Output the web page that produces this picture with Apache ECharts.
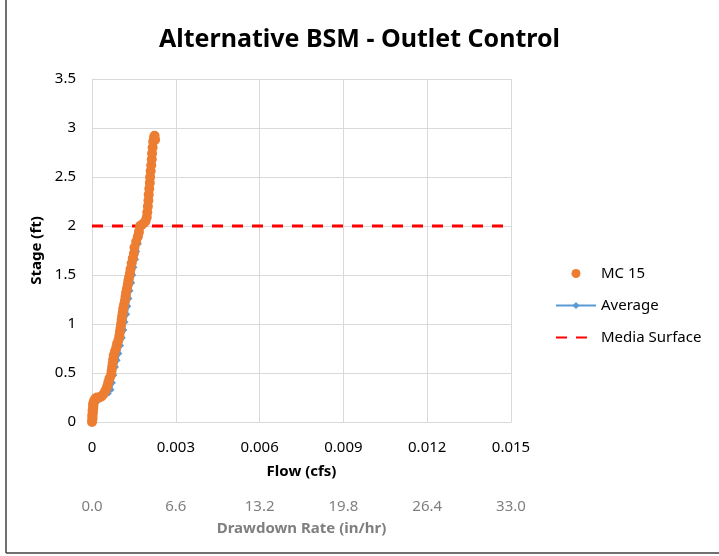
<!DOCTYPE html>
<html>
<head>
<meta charset="utf-8">
<script src="https://cdn.jsdelivr.net/npm/echarts@6/dist/echarts.min.js"></script>
<style>html,body{margin:0;padding:0;background:#fff}#c{width:719px;height:556px}</style>
</head>
<body>
<div id="c"></div>
<script>
const titleText = 'Alternative BSM - Outlet Control';
const seriesNames = ['MC 15', 'Average', 'Media Surface'];
const flowTicks = [0, 0.003, 0.006, 0.009, 0.012, 0.015];
const rateTicks = [0.0, 6.6, 13.2, 19.8, 26.4, 33.0];
const stageTicks = [0, 0.5, 1, 1.5, 2, 2.5, 3, 3.5];

const mc15 = [
  [0,0],[0.00001,0.02],[0.00002,0.04],[0.00001,0.06],[0.00002,0.08],[0.00003,0.10],
  [0.00002,0.12],[0.00004,0.14],[0.00005,0.16],[0.00004,0.18],[0.00006,0.20],[0.00008,0.22],
  [0.00012,0.24],[0.00018,0.25],[0.00026,0.25],[0.00034,0.26],[0.00040,0.28],[0.00048,0.32],
  [0.00054,0.36],[0.00058,0.40],[0.00062,0.44],[0.00068,0.48],[0.00070,0.52],[0.00072,0.56],
  [0.00074,0.60],[0.00076,0.64],[0.00078,0.68],[0.00082,0.72],[0.00087,0.76],[0.00090,0.80],
  [0.00095,0.84],[0.00098,0.88],[0.00100,0.92],[0.00102,0.96],[0.00104,1.00],[0.00106,1.04],
  [0.00108,1.08],[0.00110,1.12],[0.00112,1.16],[0.00115,1.20],[0.00118,1.24],[0.00120,1.28],
  [0.00122,1.32],[0.00125,1.36],[0.00128,1.40],[0.00130,1.44],[0.00133,1.48],[0.00136,1.52],
  [0.00138,1.56],[0.00142,1.62],[0.00146,1.67],[0.00150,1.72],[0.00152,1.78],[0.00158,1.84],
  [0.00164,1.89],[0.00168,1.94],[0.00172,2.00],[0.00178,2.01],[0.00186,2.03],[0.00192,2.05],
  [0.00196,2.09],[0.00198,2.14],[0.00200,2.20],[0.00202,2.26],[0.00203,2.32],[0.00205,2.38],
  [0.00207,2.44],[0.00208,2.50],[0.00210,2.56],[0.00212,2.62],[0.00214,2.68],[0.00215,2.74],
  [0.00217,2.80],[0.00219,2.86],[0.00222,2.90],[0.00224,2.92],[0.00226,2.88]
];

const average = [
  [0,0],[0.00002,0.05],[0.00005,0.10],[0.00010,0.15],[0.00018,0.20],[0.00030,0.23],
  [0.00045,0.26],[0.00060,0.29],[0.00070,0.33],[0.00075,0.40],[0.00080,0.48],[0.00086,0.56],
  [0.00092,0.63],[0.00098,0.70],[0.00104,0.78],[0.00110,0.86],[0.00116,0.94],[0.00120,1.02],
  [0.00126,1.10],[0.00130,1.18],[0.00134,1.26],[0.00138,1.34],[0.00144,1.42],[0.00148,1.50],
  [0.00152,1.58],[0.00158,1.66],[0.00162,1.74],[0.00168,1.82],[0.00172,1.90],[0.00178,1.98],
  [0.00188,2.04],[0.00198,2.10],[0.00204,2.20],[0.00206,2.30],[0.00208,2.40],[0.00210,2.50],
  [0.00212,2.60],[0.00214,2.70],[0.00216,2.80],[0.00219,2.88]
];

const mediaSurface = [[0,2],[0.015,2]];

const FONT = 'Noto Sans';
const chart = echarts.init(document.getElementById('c'), null, {renderer:'canvas'});
chart.setOption({
  backgroundColor:'#fff',
  animation:false,
  title:{text:titleText,left:'center',top:22,
    textStyle:{fontFamily:FONT,fontSize:25,fontWeight:'bold',color:'#000'}},
  grid:{left:92,top:79,right:208,bottom:134},
  legend:{
    orient:'vertical',left:550,top:261,itemGap:17,itemWidth:40,itemHeight:9,
    data:[
      {name:seriesNames[0]},
      {name:seriesNames[1]},
      {name:seriesNames[2],itemStyle:{opacity:0}}
    ],
    textStyle:{fontFamily:FONT,fontSize:15,color:'#000'}
  },
  xAxis:[{
    type:'value',min:flowTicks[0],max:flowTicks[flowTicks.length-1],interval:flowTicks[1]-flowTicks[0],
    position:'bottom',
    name:'Flow (cfs)',nameLocation:'middle',nameGap:42,
    nameTextStyle:{fontFamily:FONT,fontSize:15,fontWeight:'bold',color:'#000'},
    axisLine:{show:true,lineStyle:{color:'#d9d9d9'}},
    axisTick:{show:false},
    axisLabel:{fontFamily:FONT,fontSize:15,color:'#000',margin:18,
      formatter:v=>v===0?'0':String(Number(v.toFixed(3)))},
    splitLine:{show:true,lineStyle:{color:'#d9d9d9'}}
  },{
    type:'value',min:rateTicks[0],max:rateTicks[rateTicks.length-1],interval:rateTicks[1]-rateTicks[0],
    position:'bottom',offset:66,
    name:'Drawdown Rate (in/hr)',nameLocation:'middle',nameGap:33,
    nameTextStyle:{fontFamily:FONT,fontSize:15,fontWeight:'bold',color:'#7f7f7f'},
    axisLine:{show:false},axisTick:{show:false},
    axisLabel:{fontFamily:FONT,fontSize:15,color:'#7f7f7f',margin:11,formatter:v=>v.toFixed(1)},
    splitLine:{show:false}
  }],
  yAxis:{
    type:'value',min:stageTicks[0],max:stageTicks[stageTicks.length-1],interval:stageTicks[1]-stageTicks[0],
    name:'Stage (ft)',nameLocation:'middle',nameGap:46,
    nameTextStyle:{fontFamily:FONT,fontSize:15,fontWeight:'bold',color:'#000'},
    axisLine:{show:true,lineStyle:{color:'#d9d9d9'}},
    axisTick:{show:false},
    axisLabel:{fontFamily:FONT,fontSize:15,color:'#000',margin:16},
    splitLine:{show:true,lineStyle:{color:'#d9d9d9'}}
  },
  series:[
    {name:seriesNames[1],type:'line',data:average,xAxisIndex:0,z:2,
      symbol:'diamond',symbolSize:6,showSymbol:true,
      lineStyle:{color:'#5b9bd5',width:1.5},itemStyle:{color:'#5b9bd5'}},
    {name:seriesNames[2],type:'line',data:mediaSurface,xAxisIndex:0,z:3,
      symbol:'none',lineStyle:{color:'#ff0000',width:3,type:[11,9]},itemStyle:{color:'#ff0000'}},
    {name:seriesNames[0],type:'scatter',data:mc15,xAxisIndex:0,z:4,
      symbol:'circle',symbolSize:10,itemStyle:{color:'#ed7d31',opacity:1}}
  ],
  graphic:[
    {type:'line',shape:{x1:6,y1:0,x2:6,y2:553},style:{stroke:'#404040',lineWidth:1.5},silent:true},
    {type:'line',shape:{x1:6,y1:553,x2:719,y2:553},style:{stroke:'#404040',lineWidth:1.5},silent:true}
  ]
});
</script>
</body>
</html>
